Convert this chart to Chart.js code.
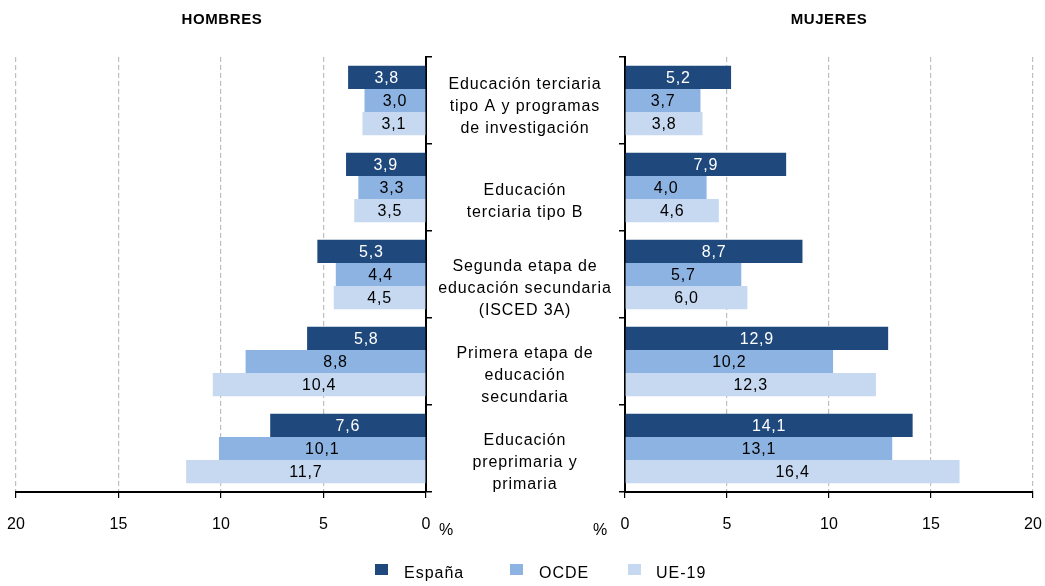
<!DOCTYPE html>
<html>
<head>
<meta charset="utf-8">
<script src="https://cdn.jsdelivr.net/npm/chart.js@4/dist/chart.umd.min.js"></script>
<style>
  html, body { margin: 0; padding: 0; background: #fff; }
  #wrap { position: relative; width: 1045px; height: 586px; }
  #wrap canvas { position: absolute; left: 0; top: 0; }
</style>
</head>
<body>
<div id="wrap">
  <canvas id="left" width="1045" height="586"></canvas>
  <canvas id="right" width="1045" height="586"></canvas>
</div>
<script>
// ---- Data ----
const categories = [
  ["Educación terciaria", "tipo A y programas", "de investigación"],
  ["Educación", "terciaria tipo B"],
  ["Segunda etapa de", "educación secundaria", "(ISCED 3A)"],
  ["Primera etapa de", "educación", "secundaria"],
  ["Educación", "preprimaria y", "primaria"]
];
const seriesNames = ["España", "OCDE", "UE-19"];
const hombresEspana = [3.8, 3.9, 5.3, 5.8, 7.6];
const hombresOCDE   = [3.0, 3.3, 4.4, 8.8, 10.1];
const hombresUE19   = [3.1, 3.5, 4.5, 10.4, 11.7];
const mujeresEspana = [5.2, 7.9, 8.7, 12.9, 14.1];
const mujeresOCDE   = [3.7, 4.0, 5.7, 10.2, 13.1];
const mujeresUE19   = [3.8, 4.6, 6.0, 12.3, 16.4];
const panelTitles = ["HOMBRES", "MUJERES"];
const xTicks = [0, 5, 10, 15, 20];

// ---- Styles ----
const colors = ["#1F497D", "#8DB3E2", "#C6D9F1"];
const labelColors = ["#ffffff", "#000000", "#000000"];
const FONT = "'Liberation Sans', Arial, sans-serif";

Chart.defaults.font.family = FONT;
Chart.defaults.color = "#000";
Chart.defaults.animation = false;

const catKeys = categories.map((c, i) => "c" + i);

function makeDatasets(arrs) {
  return arrs.map((d, i) => ({
    label: seriesNames[i],
    data: d,
    backgroundColor: colors[i],
    borderWidth: 0,
    categoryPercentage: 0.8,
    barPercentage: 1.0
  }));
}

const valueLabels = {
  id: "valueLabels",
  afterDatasetsDraw(chart) {
    const ctx = chart.ctx;
    ctx.save();
    ctx.font = "16px " + FONT;
    ctx.letterSpacing = "0.8px";
    ctx.textAlign = "center";
    ctx.textBaseline = "middle";
    chart.data.datasets.forEach((ds, di) => {
      const meta = chart.getDatasetMeta(di);
      meta.data.forEach((bar, i) => {
        const cx = (bar.x + bar.base) / 2;
        ctx.fillStyle = labelColors[di];
        ctx.fillText(ds.data[i].toFixed(1).replace(".", ","), cx, bar.y + 1);
      });
    });
    ctx.restore();
  }
};

const extras = {
  id: "extras",
  afterDraw(chart, args, opts) {
    const ctx = chart.ctx;
    ctx.save();
    ctx.fillStyle = "#000";
    // panel title
    ctx.font = "bold 15px " + FONT;
    ctx.letterSpacing = "0.6px";
    ctx.textAlign = "center";
    ctx.textBaseline = "middle";
    ctx.fillText(opts.title, opts.titleX, 20);
    // percent sign
    ctx.font = "16px " + FONT;
    ctx.letterSpacing = "0px";
    ctx.fillText("%", opts.pctX, 531);
    if (opts.center) {
      // category labels in the middle
      const yScale = chart.scales.y;
      ctx.font = "16px " + FONT;
      ctx.letterSpacing = "0.9px";
      categories.forEach((lines, i) => {
        const cy = yScale.getPixelForValue(i) + (i === 0 ? 6 : 14);
        const lh = 22;
        const start = cy - (lines.length - 1) * lh / 2;
        lines.forEach((t, k) => ctx.fillText(t, 525, start + k * lh));
      });
      // legend
      const items = [[375, 404], [510, 539], [628, 656]];
      ctx.font = "16px " + FONT;
      ctx.letterSpacing = "1px";
      ctx.textAlign = "left";
      seriesNames.forEach((n, i) => {
        ctx.fillStyle = colors[i];
        ctx.fillRect(items[i][0], 564, 13, 11);
        ctx.fillStyle = "#000";
        ctx.fillText(n, items[i][1], 574);
      });
    }
    ctx.restore();
  }
};

function panel(canvasId, arrs, isLeft) {
  return new Chart(document.getElementById(canvasId), {
    type: "bar",
    data: { labels: catKeys, datasets: makeDatasets(arrs) },
    plugins: [valueLabels, extras],
    options: {
      indexAxis: "y",
      responsive: false,
      layout: {
        padding: isLeft
          ? { left: 16, right: 1045 - 426 - 6, top: 57, bottom: 41 }
          : { left: 625 - 6, right: 12, top: 57, bottom: 41 }
      },
      plugins: {
        legend: { display: false },
        tooltip: { enabled: false },
        extras: isLeft
          ? { title: panelTitles[0], titleX: 222, pctX: 446, center: true }
          : { title: panelTitles[1], titleX: 829, pctX: 600, center: false }
      },
      scales: {
        x: {
          reverse: isLeft,
          min: xTicks[0],
          max: xTicks[xTicks.length - 1],
          afterBuildTicks(scale) { scale.ticks = xTicks.map(v => ({ value: v })); },
          afterFit(scale) { scale.height = 53; },
          grid: {
            color: (c) => (c.tick && c.tick.value === 0 ? "rgba(0,0,0,0)" : "#BFBFBF"),
            lineWidth: 1.2,
            tickColor: "#000",
            tickLength: 6,
            drawTicks: true
          },
          border: { display: true, color: "#000", width: 2, dash: [5, 3] },
          ticks: {
            padding: 3,
            font: { size: 16, lineHeight: "48px" },
            color: "#000",
            callback: (v) => String(v)
          }
        },
        y: {
          position: isLeft ? "right" : "left",
          grid: {
            drawOnChartArea: false,
            drawTicks: true,
            tickLength: 6,
            color: "#000",
            tickColor: "#000",
            lineWidth: 1.5
          },
          border: { display: true, color: "#000", width: 2 },
          ticks: { display: false }
        }
      }
    }
  });
}

panel("left", [hombresEspana, hombresOCDE, hombresUE19], true);
panel("right", [mujeresEspana, mujeresOCDE, mujeresUE19], false);
</script>
</body>
</html>
